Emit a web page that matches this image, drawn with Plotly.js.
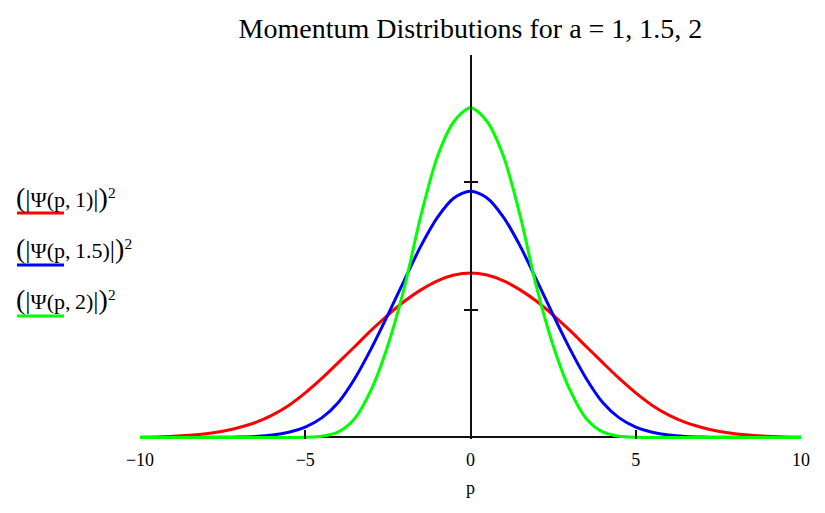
<!DOCTYPE html>
<html>
<head>
<meta charset="utf-8">
<script src="https://cdn.plot.ly/plotly-3.0.1.min.js"></script>
<style>html,body{margin:0;padding:0;background:#fff;}#chart{width:825px;height:513px;}</style>
</head>
<body>
<div id="chart"></div>
<script>
// momentum values p
const P = [-10,-9.5,-9,-8.5,-8,-7.5,-7,-6.5,-6,-5.5,-5,-4.5,-4,-3.5,-3,-2.5,-2,-1.5,-1,-0.5,
           0,0.5,1,1.5,2,2.5,3,3.5,4,4.5,5,5.5,6,6.5,7,7.5,8,8.5,9,9.5,10];
// |Psi(p,1)|^2
const PSI_A1 = [0.0003,0.0008,0.0017,0.0033,0.0058,0.0097,0.0155,0.0235,0.0350,0.0502,0.0698,0.0925,0.1173,0.1427,0.1682,0.1920,0.2136,0.2315,0.2456,0.2547,
                0.2580,
                0.2547,0.2456,0.2315,0.2136,0.1920,0.1682,0.1427,0.1173,0.0925,0.0698,0.0502,0.0350,0.0235,0.0155,0.0097,0.0058,0.0033,0.0017,0.0008,0.0003];
// |Psi(p,1.5)|^2
const PSI_A15 = [0,0,0,0,0.0001,0.0002,0.0006,0.0016,0.0036,0.0080,0.0163,0.0307,0.0549,0.0925,0.1396,0.1922,0.2469,0.3005,0.3453,0.3757,
                 0.3864,
                 0.3757,0.3453,0.3005,0.2469,0.1922,0.1396,0.0925,0.0549,0.0307,0.0163,0.0080,0.0036,0.0016,0.0006,0.0002,0.0001,0,0,0,0];
// |Psi(p,2)|^2
const PSI_A2 = [0,0,0,0,0,0,0,0,0,0,0.0003,0.0019,0.0086,0.0298,0.0753,0.1443,0.2353,0.3482,0.4408,0.4957,
                0.5172,
                0.4957,0.4408,0.3482,0.2353,0.1443,0.0753,0.0298,0.0086,0.0019,0.0003,0,0,0,0,0,0,0,0,0,0];

const X_TICKS = [-10,-5,0,5,10];
const Y_TICKS = [0.2,0.4];
const BIG = s => '<span style="font-size:28px">' + s + '</span>';
const BAR = '<span style="font-size:26px">|</span>';
const LEGEND_LABELS = [
  BIG('(') + BAR + 'Ψ(p,\u20091)' + BAR + BIG(')') + '<sup>2</sup>',
  BIG('(') + BAR + 'Ψ(p,\u20091.5)' + BAR + BIG(')') + '<sup>2</sup>',
  BIG('(') + BAR + 'Ψ(p,\u20092)' + BAR + BIG(')') + '<sup>2</sup>'
];
const COLORS = ['#ff0000','#0000ff','#00ff00'];
const SERIES = [PSI_A1, PSI_A15, PSI_A2];
const YAXES = ['y', 'y', 'y2'];

const FONT = 'Liberation Serif, Times New Roman, serif';
const traces = SERIES.map((ys, i) => ({
  x: P, y: ys, type: 'scatter', mode: 'lines', yaxis: YAXES[i],
  line: {color: COLORS[i], width: 3, shape: 'spline', smoothing: 0.8},
  showlegend: false, hoverinfo: 'x+y'
}));

const yRange = [-0.0025, 0.6];
const L = 140, R = 24, T = 55, B = 74, W = 825, H = 513;
const pw = W - L - R, ph = H - T - B;
const px2x = px => (px - L) / pw;
const py2y = py => (H - B - py) / ph;
const legendTextY = [197, 248, 299];
const legendLineY = [213, 265, 316];

const annotations = LEGEND_LABELS.map((t, i) => ({
  text: t, xref: 'paper', yref: 'paper', x: px2x(14), y: py2y(legendTextY[i]),
  xanchor: 'left', yanchor: 'middle', showarrow: false,
  font: {family: FONT, size: 22, color: '#000'}
}));
const shapes = COLORS.map((c, i) => ({
  type: 'line', xref: 'paper', yref: 'paper',
  x0: px2x(17), x1: px2x(64), y0: py2y(legendLineY[i]), y1: py2y(legendLineY[i]),
  line: {color: c, width: 3}
}));

const layout = {
  width: W, height: H,
  margin: {l: L, r: R, t: T, b: B, pad: 0},
  paper_bgcolor: '#fff', plot_bgcolor: '#fff',
  font: {family: FONT, color: '#000'},
  title: {text: 'Momentum Distributions for a = 1, 1.5, 2', font: {family: FONT, size: 28, color: '#000'},
          x: 0.5, xref: 'paper', y: 1 - 28 / H, yref: 'container', yanchor: 'middle'},
  xaxis: {range: [-10, 10], tickvals: X_TICKS, ticks: 'inside', ticklen: 9, tickwidth: 2, tickcolor: '#111',
          showgrid: false, zeroline: false, showline: false,
          tickfont: {family: FONT, size: 18, color: '#000'}, ticklabelstandoff: 8,
          title: {text: 'p', font: {family: FONT, size: 18, color: '#000'}, standoff: 12}},
  yaxis: {range: yRange, tickvals: Y_TICKS, anchor: 'free', position: 0.5, side: 'left',
          ticks: 'outside', ticklen: 6, tickwidth: 2, tickcolor: '#111', showticklabels: false,
          showgrid: false, showline: true, linecolor: '#111', linewidth: 2,
          zeroline: true, zerolinecolor: '#111', zerolinewidth: 2},
  yaxis2: {range: yRange, tickvals: Y_TICKS, overlaying: 'y', anchor: 'free', position: 0.5, side: 'right',
           ticks: 'outside', ticklen: 6, tickwidth: 2, tickcolor: '#111', showticklabels: false,
           showgrid: false, showline: false, zeroline: false},
  annotations: annotations,
  shapes: shapes
};

Plotly.newPlot('chart', traces, layout, {displayModeBar: false, staticPlot: true});
</script>
</body>
</html>
